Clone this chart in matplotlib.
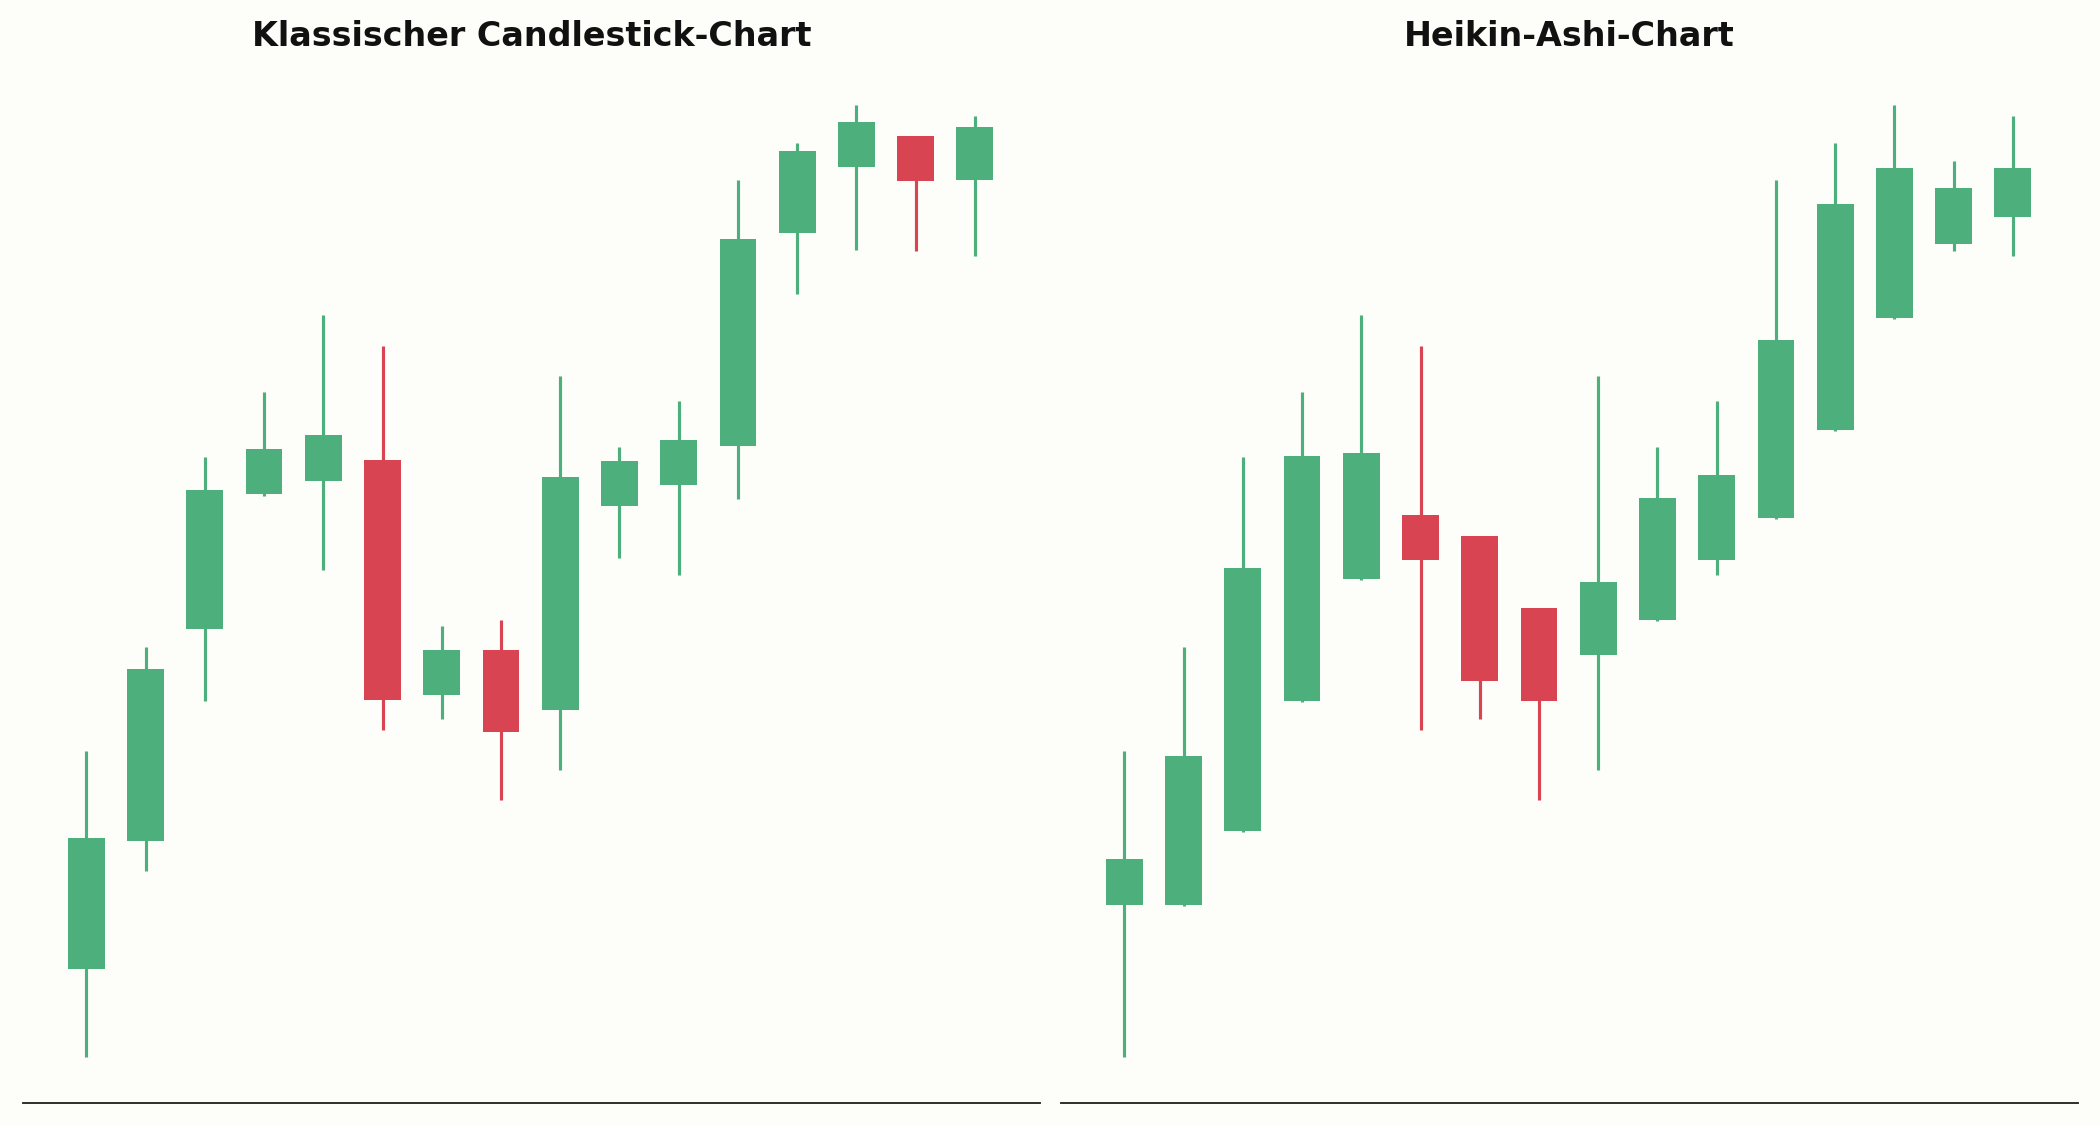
import numpy as np
import matplotlib
matplotlib.use("Agg")
import matplotlib.pyplot as plt

# ---- data ----
titles = ["Klassischer Candlestick-Chart", "Heikin-Ashi-Chart"]

classic_open  = [106.72, 113.12, 123.72, 130.47, 131.12, 132.15, 120.40, 122.65,
                 119.67, 129.87, 130.92, 132.87, 143.52, 146.82, 148.35, 146.17]
classic_high  = [117.62, 122.82, 132.32, 135.57, 139.40, 137.87, 123.87, 124.17,
                 136.37, 132.82, 135.12, 146.17, 148.02, 149.92, 148.35, 149.37]
classic_low   = [102.32, 111.60, 120.10, 130.35, 126.65, 118.65, 119.20, 115.15,
                 116.65, 127.25, 126.40, 130.20, 140.45, 142.65, 142.60, 142.35]
classic_close = [113.25, 121.70, 130.65, 132.70, 133.40, 120.17, 122.65, 118.55,
                 131.30, 132.10, 133.15, 143.20, 147.60, 149.05, 146.12, 148.80]

ha_open  = [109.92, 109.92, 113.62, 120.12, 126.22, 129.40, 128.35, 124.75,
            122.42, 124.15, 127.17, 129.27, 133.67, 139.25, 142.95, 144.32]
ha_high  = [117.62, 122.82, 132.32, 135.57, 139.40, 137.87, 128.35, 124.75,
            136.37, 132.82, 135.12, 146.17, 148.02, 149.92, 147.12, 149.37]
ha_low   = [102.32, 109.85, 113.55, 120.05, 126.15, 118.65, 119.20, 115.15,
            116.65, 124.10, 126.40, 129.20, 133.60, 139.20, 142.60, 142.35]
ha_close = [112.20, 117.35, 126.75, 132.35, 132.50, 127.17, 121.12, 120.12,
            126.05, 130.25, 131.40, 138.15, 144.95, 146.75, 145.75, 146.75]

GREEN = "#4daf7c"
RED = "#d84452"
BG = "#fdfdf9"

W, H, DPI = 2100, 1125, 150
fig = plt.figure(figsize=(W / DPI, H / DPI), dpi=DPI, facecolor=BG)

ax_left_px = [23, 1061]
ax_w_px = 1017
ax_bottom_px = 1103
ax_top_px = 63


def draw(ax, o, h, l, c, title):
    o, h, l, c = map(np.asarray, (o, h, l, c))
    x = np.arange(len(o))
    cols = np.where(c >= o, GREEN, RED)
    ax.vlines(x, l, h, colors=cols, linewidth=1.5, zorder=2)
    ax.bar(x, c - o, bottom=o, width=0.62, color=cols, edgecolor="none", zorder=3)
    ax.set_xlim(-1.07, 16.1)
    ax.set_ylim(100, 152)
    ax.set_facecolor(BG)
    for s in ["top", "right", "left"]:
        ax.spines[s].set_visible(False)
    ax.spines["bottom"].set_color("#262626")
    ax.spines["bottom"].set_linewidth(0.9)
    ax.set_xticks([])
    ax.set_yticks([])
    ax.set_title(title, fontsize=16, fontweight="bold", color="#111111", pad=8)


datasets = [
    (classic_open, classic_high, classic_low, classic_close),
    (ha_open, ha_high, ha_low, ha_close),
]
for i in range(2):
    ax = fig.add_axes([ax_left_px[i] / W, (H - ax_bottom_px) / H,
                       ax_w_px / W, (ax_bottom_px - ax_top_px) / H])
    draw(ax, *datasets[i], titles[i])

fig.savefig("out.png", dpi=DPI, facecolor=BG)
